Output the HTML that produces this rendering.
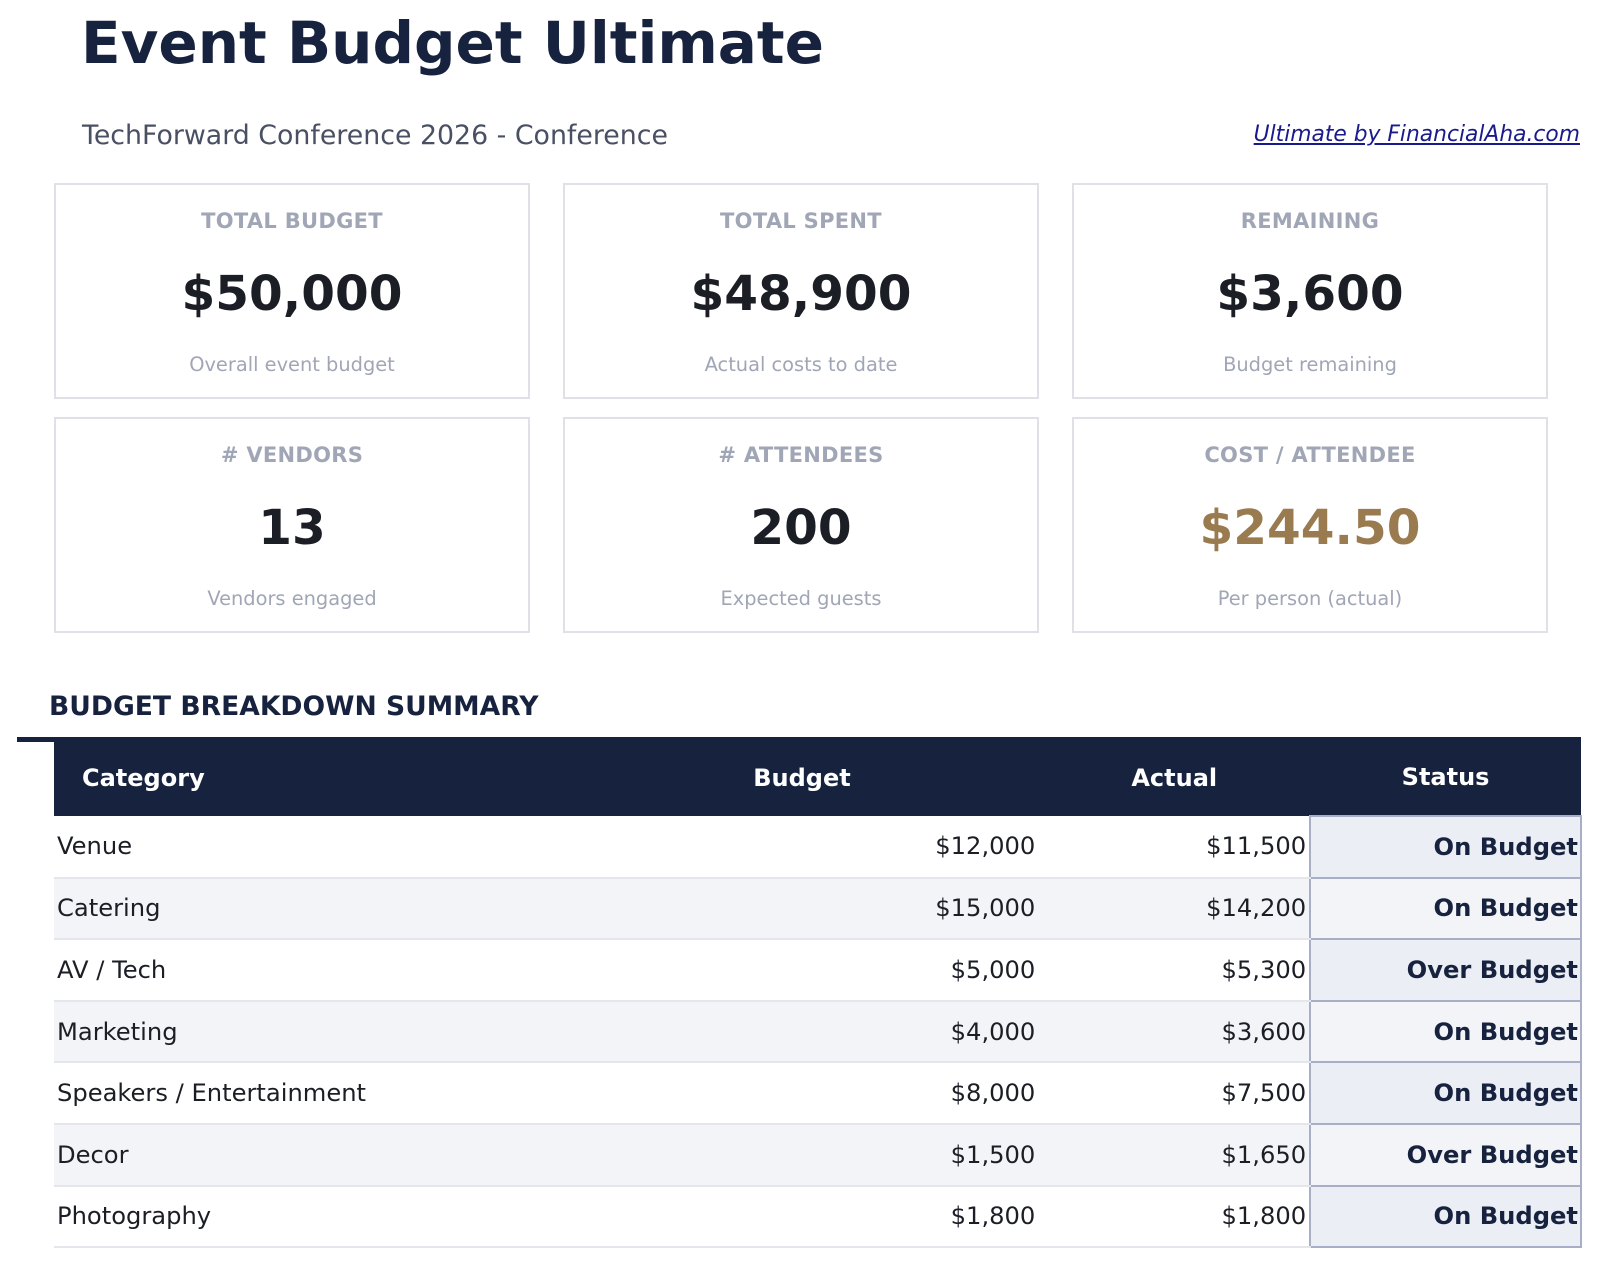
<!DOCTYPE html>
<html><head><style>
body{margin:0;background:#fff;font-family:"DejaVu Sans","Liberation Sans",sans-serif;width:1602px;height:1269px;position:relative;overflow:hidden}
.t{position:absolute;left:81px;top:9px;font-size:58px;font-weight:bold;color:#16223e;margin:0}
.sub{position:absolute;left:82px;top:120px;font-size:26.8px;color:#4a5063}
.lnk{position:absolute;right:22px;top:122px;font-size:21.8px;font-style:italic;color:#1a1a8c;text-decoration:underline}
.card{position:absolute;width:476px;height:216px;border:2px solid #dfe1e6;box-sizing:border-box;text-align:center}
.card .l{position:absolute;top:24px;width:100%;font-size:21px;font-weight:bold;color:#a0a6b6;letter-spacing:.3px}
.card .v{position:absolute;top:81px;width:100%;font-size:48.5px;font-weight:bold;color:#1c1e26}
.card .s{position:absolute;top:168px;width:100%;font-size:19.4px;color:#a0a6b6}
.sec{position:absolute;left:49px;top:691px;font-size:26.6px;font-weight:bold;color:#16223e}
.bar{position:absolute;left:17px;top:737px;width:40px;height:5px;background:#16223e}
table{position:absolute;left:54px;top:737px;width:1528px;border-collapse:collapse;font-size:24.2px;color:#1c1e26}
th{background:#16223e;color:#fff;height:76px;font-size:24px;padding:2px 0 0 0}
td{height:59.6px;padding:0 3px;border-bottom:2px solid #e4e6ec}
tr.a td{background:#f3f4f7}
td.n{text-align:right}
td.st{background:#eceef6;border:2px solid #a8aec6;text-align:right;font-weight:bold;color:#16223e;padding-right:2px}
</style></head><body>
<h1 class="t">Event Budget Ultimate</h1>
<div class="sub">TechForward Conference 2026 - Conference</div>
<div class="lnk">Ultimate by FinancialAha.com</div>
<div class="card" style="left:54px;top:183px"><div class="l">TOTAL BUDGET</div><div class="v">$50,000</div><div class="s">Overall event budget</div></div>
<div class="card" style="left:563px;top:183px"><div class="l">TOTAL SPENT</div><div class="v">$48,900</div><div class="s">Actual costs to date</div></div>
<div class="card" style="left:1072px;top:183px"><div class="l">REMAINING</div><div class="v">$3,600</div><div class="s">Budget remaining</div></div>
<div class="card" style="left:54px;top:417px"><div class="l"># VENDORS</div><div class="v">13</div><div class="s">Vendors engaged</div></div>
<div class="card" style="left:563px;top:417px"><div class="l"># ATTENDEES</div><div class="v">200</div><div class="s">Expected guests</div></div>
<div class="card" style="left:1072px;top:417px"><div class="l">COST / ATTENDEE</div><div class="v" style="color:#9a7b50">$244.50</div><div class="s">Per person (actual)</div></div>
<div class="sec">BUDGET BREAKDOWN SUMMARY</div>
<div class="bar"></div>
<table>
<colgroup><col style="width:512px"><col style="width:473px"><col style="width:272px"><col style="width:271px"></colgroup>
<tr><th style="text-align:left;padding-left:28px">Category</th><th>Budget</th><th>Actual</th><th>Status</th></tr>
<tr><td>Venue</td><td class="n">$12,000</td><td class="n">$11,500</td><td class="st">On Budget</td></tr>
<tr class="a"><td>Catering</td><td class="n">$15,000</td><td class="n">$14,200</td><td class="st">On Budget</td></tr>
<tr><td>AV / Tech</td><td class="n">$5,000</td><td class="n">$5,300</td><td class="st">Over Budget</td></tr>
<tr class="a"><td>Marketing</td><td class="n">$4,000</td><td class="n">$3,600</td><td class="st">On Budget</td></tr>
<tr><td>Speakers / Entertainment</td><td class="n">$8,000</td><td class="n">$7,500</td><td class="st">On Budget</td></tr>
<tr class="a"><td>Decor</td><td class="n">$1,500</td><td class="n">$1,650</td><td class="st">Over Budget</td></tr>
<tr><td>Photography</td><td class="n">$1,800</td><td class="n">$1,800</td><td class="st">On Budget</td></tr>
</table>
</body></html>
